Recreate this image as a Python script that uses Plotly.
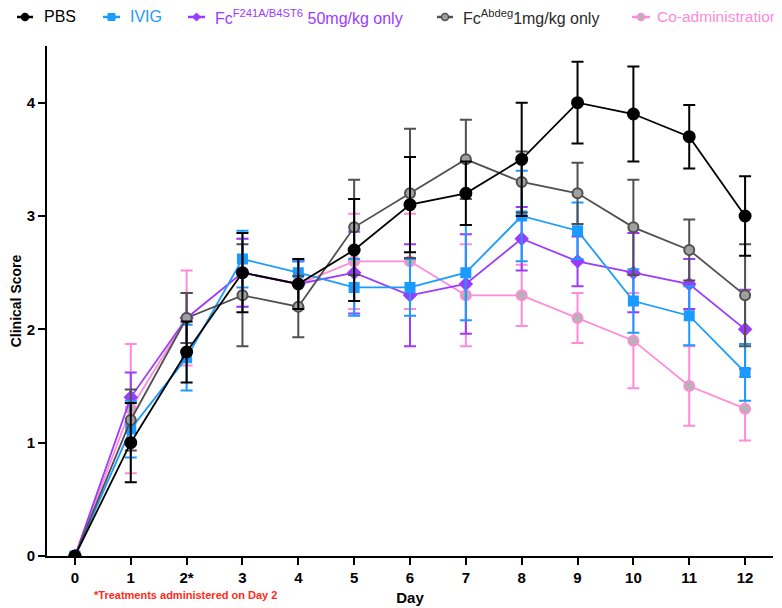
import plotly.graph_objects as go

days = list(range(13))
tick_labels = ["0", "1", "2*", "3", "4", "5", "6", "7", "8", "9", "10", "11", "12"]

pbs = [0, 1.0, 1.8, 2.5, 2.4, 2.7, 3.1, 3.2, 3.5, 4.0, 3.9, 3.7, 3.0]
pbs_err = [0, 0.35, 0.27, 0.35, 0.22, 0.45, 0.42, 0.28, 0.5, 0.36, 0.42, 0.28, 0.35]

ivig = [0, 1.12, 1.75, 2.62, 2.5, 2.37, 2.37, 2.5, 3.0, 2.87, 2.25, 2.12, 1.62]
ivig_err = [0, 0.25, 0.29, 0.25, 0.1, 0.25, 0.25, 0.42, 0.4, 0.25, 0.28, 0.26, 0.25]

fc_f241a = [0, 1.4, 2.1, 2.5, 2.4, 2.5, 2.3, 2.4, 2.8, 2.6, 2.5, 2.4, 2.0]
fc_f241a_err = [0, 0.22, 0.22, 0.3, 0.2, 0.36, 0.45, 0.44, 0.28, 0.22, 0.35, 0.22, 0.35]

fc_abdeg = [0, 1.2, 2.1, 2.3, 2.2, 2.9, 3.2, 3.5, 3.3, 3.2, 2.9, 2.7, 2.3]
fc_abdeg_err = [0, 0.27, 0.22, 0.45, 0.27, 0.42, 0.57, 0.35, 0.27, 0.27, 0.42, 0.27, 0.45]

coadmin = [0, 1.3, 2.1, 2.5, 2.4, 2.6, 2.6, 2.3, 2.3, 2.1, 1.9, 1.5, 1.3]
coadmin_err = [0, 0.57, 0.42, 0.3, 0.2, 0.42, 0.42, 0.45, 0.27, 0.22, 0.42, 0.35, 0.28]

legend_names = ["PBS", "IVIG", "Fc<sup>F241A/B4ST6</sup> 50mg/kg only",
                "Fc<sup>Abdeg</sup>1mg/kg only", "Co-administration"]

C_BLACK = "#000000"
C_BLUE = "#1A9BFF"
C_PURPLE = "#9B3BFF"
C_GRAY = "#505050"
C_PINK = "#FF8AD8"

# geometry: the page body has an 8px margin, so the figure is 774x600 placed at (8, 8)
OFF = 8
W, H = 782 - OFF, 608 - OFF
PL, PR, PT, PB = 47, 773, 46, 556          # plot area edges in screenshot pixels
ML, MR, MT, MB = PL - OFF, W - (PR - OFF), PT - OFF, H - (PB - OFF)
PW, PH = PR - PL, PB - PT


def px(x):
    return (x - PL) / PW


def py(y):
    return (PB - y) / PH


series = [
    # draw order: bottom -> top
    dict(idx=4, y=coadmin, e=coadmin_err, color=C_PINK, symbol="circle", fill="#B4B4B4", size=10,
         text_color=C_PINK),
    dict(idx=2, y=fc_f241a, e=fc_f241a_err, color=C_PURPLE, symbol="diamond", fill=C_PURPLE, size=9,
         text_color=C_PURPLE),
    dict(idx=1, y=ivig, e=ivig_err, color=C_BLUE, symbol="square", fill=C_BLUE, size=9,
         text_color=C_BLUE),
    dict(idx=3, y=fc_abdeg, e=fc_abdeg_err, color=C_GRAY, symbol="circle", fill="#A0A0A0", size=10,
         text_color="#2A2A2A"),
    dict(idx=0, y=pbs, e=pbs_err, color=C_BLACK, symbol="circle", fill=C_BLACK, size=11,
         text_color=C_BLACK),
]

fig = go.Figure()
for s in series:
    fig.add_trace(go.Scatter(
        x=days, y=s["y"], name=legend_names[s["idx"]], mode="lines+markers",
        line=dict(color=s["color"], width=1.8),
        marker=dict(symbol=s["symbol"], size=s["size"], color=s["fill"],
                    line=dict(color=s["color"], width=2)),
        error_y=dict(type="data", array=s["e"], visible=True, color=s["color"],
                     thickness=2, width=6),
        showlegend=False,
    ))

# manual legend along the top (reference legend runs off the right edge)
leg_seg = [(17, 33), (103, 120), (188, 205), (437, 453), (632, 650)]
leg_text_x = [42, 128, 213, 461, 655]
leg_font = [16, 16, 16, 16, 15.5]
leg_y = 17
shapes = []
annotations = []
by_idx = {s["idx"]: s for s in series}
for i in range(5):
    s = by_idx[i]
    x0, x1 = leg_seg[i]
    xc = (x0 + x1) / 2
    shapes.append(dict(type="line", xref="paper", yref="paper", x0=px(x0), x1=px(x1),
                       y0=py(leg_y), y1=py(leg_y), line=dict(color=s["color"], width=2.5), layer="above"))
    r = 3.5
    if s["symbol"] == "circle":
        shapes.append(dict(type="circle", xref="paper", yref="paper",
                           x0=px(xc - r), x1=px(xc + r), y0=py(leg_y + r), y1=py(leg_y - r),
                           fillcolor=s["fill"], line=dict(color=s["color"], width=1.5), layer="above"))
    elif s["symbol"] == "square":
        shapes.append(dict(type="rect", xref="paper", yref="paper",
                           x0=px(xc - r), x1=px(xc + r), y0=py(leg_y + r), y1=py(leg_y - r),
                           fillcolor=s["fill"], line=dict(color=s["color"], width=1), layer="above"))
    else:
        d = 4
        path = "M {} {} L {} {} L {} {} L {} {} Z".format(
            px(xc - d), py(leg_y), px(xc), py(leg_y - d), px(xc + d), py(leg_y), px(xc), py(leg_y + d))
        shapes.append(dict(type="path", xref="paper", yref="paper", path=path,
                           fillcolor=s["fill"], line=dict(color=s["color"], width=1), layer="above"))
    annotations.append(dict(text=legend_names[i], xref="paper", yref="paper",
                            x=px(leg_text_x[i]), y=py(leg_y), xanchor="left", yanchor="middle",
                            showarrow=False, font=dict(size=leg_font[i], color=s["text_color"])))

annotations.append(dict(
    text="*Treatments administered on Day 2", xref="paper", yref="paper",
    x=px(92), y=py(595), xanchor="left", yanchor="middle", showarrow=False,
    font=dict(size=11, color="#FF2A1A", weight="bold"),
))

fig.update_layout(
    width=W, height=H,
    paper_bgcolor="white", plot_bgcolor="white",
    margin=dict(l=ML, r=MR, t=MT, b=MB, autoexpand=False),
    font=dict(family="Liberation Sans, Arial", size=14, color="black"),
    showlegend=False,
    shapes=shapes,
    annotations=annotations,
    xaxis=dict(range=[-0.5, 12.5], tickmode="array", tickvals=days, ticktext=tick_labels,
               automargin=False,
               showgrid=False, zeroline=False, showline=True, linecolor="black", linewidth=2,
               ticks="outside", ticklen=7, tickwidth=2, tickcolor="black",
               tickfont=dict(size=15, weight="bold"),
               title=dict(text="Day", font=dict(size=15, weight="bold"), standoff=7)),
    yaxis=dict(range=[0, 4.5], tickmode="array", tickvals=[0, 1, 2, 3, 4],
               automargin=False,
               showgrid=False, zeroline=False, showline=True, linecolor="black", linewidth=2,
               ticks="outside", ticklen=7, tickwidth=2, tickcolor="black",
               tickfont=dict(size=15, weight="bold"),
               title=dict(text="Clinical Score", font=dict(size=14, weight="bold"), standoff=6)),
)

fig.write_html("out.html")
